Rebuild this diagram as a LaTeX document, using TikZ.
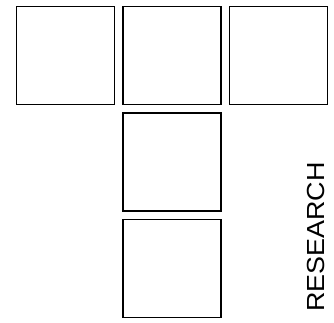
\documentclass[tikz,border=0pt]{standalone}
\usepackage{fontspec}
\setmainfont{Liberation Sans}
\begin{document}
\begin{tikzpicture}[x=1pt,y=-1pt,
  sq/.style={draw=black,line width=1.5pt,minimum size=98pt,inner sep=0pt,fill=white},
  lbl/.style={font=\fontsize{24.7}{26}\selectfont,inner sep=0pt,rotate=90}]
\useasboundingbox (0,0) rectangle (334,322);
\node[sq] (a) at (65.5,55.25) {};
\node[sq] (b) at (172,55.25) {};
\node[sq] (c) at (278.5,55.25) {};
\node[sq] (d) at (172,161.75) {};
\node[sq] (e) at (172,268.25) {};
\node[lbl] (t) at (316.2,237) {\scalebox{1.09}[1]{RESEARCH}};
\end{tikzpicture}
\end{document}
